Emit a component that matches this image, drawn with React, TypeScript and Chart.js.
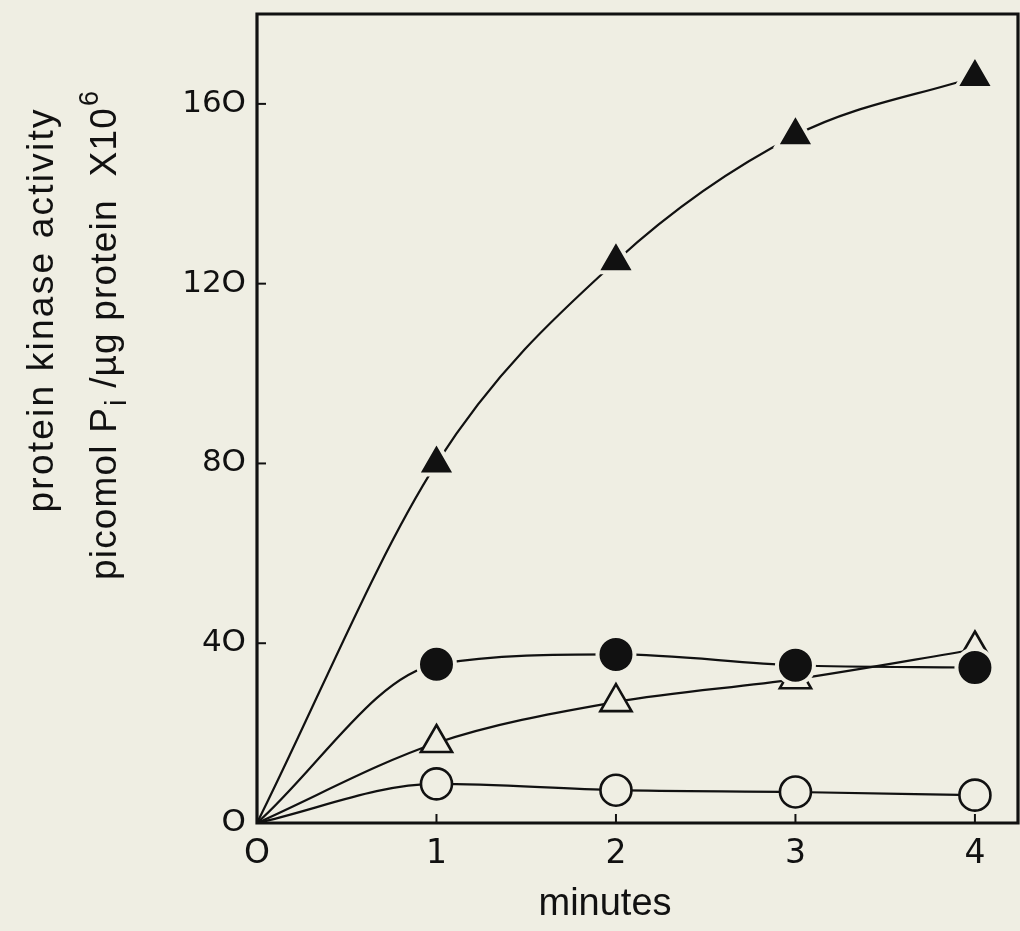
import React, { useEffect, useRef } from "react";
import { Chart, registerables } from "chart.js";

Chart.register(...registerables);

// ---- data ----
const minutes = [0, 1, 2, 3, 4];
const filledTriangle = [0, 80, 125, 153, 166];
const filledCircle = [0, 35.3, 37.5, 35.1, 34.6];
const openTriangle = [0, 17.8, 26.9, 32, 38.6];
const openCircle = [0, 8.7, 7.3, 6.9, 6.2];
const xTickValues = [0, 1, 2, 3, 4];
const yTickValues = [0, 40, 80, 120, 160];
const xTitle = "minutes";
const yTitleLine1 = "protein kinase activity";
const yTitleLine2a = "picomol P";
const yTitleLine2Sub = "i";
const yTitleLine2b = " /µg protein  X10";
const yTitleLine2Sup = "6";

const BG = "#efeee3";
const INK = "#111111";

const pts = (ys: number[]) => minutes.map((x, i) => ({ x, y: ys[i] }));
const radii = (r: number) => minutes.map((_, i) => (i === 0 ? 0 : r));

function drawSpaced(ctx: any, text: string, x: number, y: number, ls: number) {
  let cx = x;
  for (const ch of text) {
    ctx.fillText(ch, cx, y);
    cx += ctx.measureText(ch).width + ls;
  }
  return cx - x;
}
function widthSpaced(ctx: any, text: string, ls: number) {
  let w = 0;
  for (const ch of text) w += ctx.measureText(ch).width + ls;
  return w;
}

const framePlugin = {
  id: "frameAndTitles",
  beforeDraw(chart: any) {
    const { ctx, width, height } = chart;
    ctx.save();
    ctx.fillStyle = BG;
    ctx.fillRect(0, 0, width, height);
    ctx.restore();
  },
  afterDatasetsDraw(chart: any) {
    const { ctx, chartArea } = chart;
    const xs = chart.scales.x;
    const ys = chart.scales.y;
    ctx.save();
    ctx.strokeStyle = INK;
    ctx.lineWidth = 3.2;
    ctx.lineCap = "square";
    ctx.beginPath();
    ctx.moveTo(chartArea.left, chartArea.bottom);
    ctx.lineTo(chartArea.left, chartArea.top);
    ctx.lineTo(chartArea.right, chartArea.top);
    ctx.lineTo(chartArea.right, chartArea.bottom);
    ctx.closePath();
    ctx.stroke();
    ctx.lineWidth = 2;
    ctx.lineCap = "butt";
    xTickValues.forEach((v) => {
      if (v === 0) return;
      const px = xs.getPixelForValue(v);
      ctx.beginPath();
      ctx.moveTo(px, chartArea.bottom);
      ctx.lineTo(px, chartArea.bottom - 9);
      ctx.stroke();
    });
    yTickValues.forEach((v) => {
      if (v === 0) return;
      const py = ys.getPixelForValue(v);
      ctx.beginPath();
      ctx.moveTo(chartArea.left, py);
      ctx.lineTo(chartArea.left + 9, py);
      ctx.stroke();
    });
    ctx.restore();
  },
  afterDraw(chart: any) {
    const { ctx } = chart;
    ctx.save();
    ctx.fillStyle = INK;
    ctx.font = "38px 'Liberation Sans', Arial, sans-serif";
    ctx.textAlign = "center";
    ctx.textBaseline = "alphabetic";
    ctx.fillText(xTitle, 605, 915);

    const mainFont = "37px 'Liberation Sans', Arial, sans-serif";
    const subFont = "29px 'Liberation Sans', Arial, sans-serif";
    const supFont = "27px 'Liberation Sans', Arial, sans-serif";
    ctx.textAlign = "left";

    ctx.save();
    ctx.translate(53, 311);
    ctx.rotate(-Math.PI / 2);
    ctx.font = mainFont;
    const n1 = [...yTitleLine1].length;
    const nat1 = widthSpaced(ctx, yTitleLine1, 0);
    const ls1 = Math.max(0, (403 - nat1) / (n1 - 1));
    const w1 = widthSpaced(ctx, yTitleLine1, ls1) - ls1;
    drawSpaced(ctx, yTitleLine1, -w1 / 2, 0, ls1);
    ctx.restore();

    ctx.save();
    ctx.translate(116, 336);
    ctx.rotate(-Math.PI / 2);
    ctx.font = mainFont;
    const natA = widthSpaced(ctx, yTitleLine2a, 0);
    const natB = widthSpaced(ctx, yTitleLine2b, 0);
    ctx.font = subFont;
    const natSub = widthSpaced(ctx, yTitleLine2Sub, 0);
    ctx.font = supFont;
    const natSup = widthSpaced(ctx, yTitleLine2Sup, 0);
    const nChars = [...yTitleLine2a].length + [...yTitleLine2b].length + 1;
    const nat2 = natA + natB + natSub + natSup;
    const ls2 = Math.max(0, (488 - nat2) / nChars);
    const w2 = nat2 + ls2 * nChars;
    let cx = -w2 / 2;
    ctx.font = mainFont;
    cx += drawSpaced(ctx, yTitleLine2a, cx, 0, ls2);
    ctx.font = subFont;
    cx += drawSpaced(ctx, yTitleLine2Sub, cx + 1, 10, ls2);
    ctx.font = mainFont;
    cx += drawSpaced(ctx, yTitleLine2b, cx, 0, ls2);
    ctx.font = supFont;
    drawSpaced(ctx, yTitleLine2Sup, cx + 1, -18, 0);
    ctx.restore();

    ctx.restore();
  },
};

export default function App() {
  const ref = useRef<HTMLCanvasElement | null>(null);

  useEffect(() => {
    if (!ref.current) return;
    const common = {
      borderColor: INK,
      borderWidth: 2.2,
      cubicInterpolationMode: "monotone" as const,
      showLine: true,
      clip: 30,
    };
    const zeroPad = (s: any) => {
      s.paddingTop = 0;
      s.paddingBottom = 0;
      s.paddingLeft = 0;
      s.paddingRight = 0;
    };
    const chart = new Chart(ref.current, {
      type: "line",
      data: {
        datasets: [
          {
            ...common,
            label: "filled triangle",
            data: pts(filledTriangle),
            pointStyle: "triangle",
            pointRadius: radii(22),
            pointBackgroundColor: INK,
            pointBorderColor: BG,
            pointBorderWidth: 4,
          },
          {
            ...common,
            label: "filled circle",
            data: pts(filledCircle),
            pointStyle: "circle",
            pointRadius: radii(18.5),
            pointBackgroundColor: INK,
            pointBorderColor: BG,
            pointBorderWidth: 4,
          },
          {
            ...common,
            label: "open triangle",
            data: pts(openTriangle),
            pointStyle: "triangle",
            pointRadius: radii(18),
            pointBackgroundColor: BG,
            pointBorderColor: INK,
            pointBorderWidth: 2.6,
          },
          {
            ...common,
            label: "open circle",
            data: pts(openCircle),
            pointStyle: "circle",
            pointRadius: radii(15.5),
            pointBackgroundColor: BG,
            pointBorderColor: INK,
            pointBorderWidth: 2.6,
          },
        ],
      },
      options: {
        responsive: false,
        animation: false,
        events: [],
        layout: { autoPadding: false, padding: { left: 0, top: 14, right: 2, bottom: 0 } },
        plugins: {
          legend: { display: false },
          tooltip: { enabled: false },
          title: { display: false },
        },
        scales: {
          x: {
            type: "linear",
            min: 0,
            max: 4.24,
            afterBuildTicks: (s: any) => {
              s.ticks = xTickValues.map((v) => ({ value: v }));
            },
            afterFit: (s: any) => {
              s.height = 108;
              zeroPad(s);
            },
            grid: { display: false, drawTicks: false },
            border: { display: false },
            ticks: {
              color: INK,
              padding: 12,
              maxRotation: 0,
              autoSkip: false,
              font: { family: "'DejaVu Sans', sans-serif", size: 33, weight: "normal" },
              callback: (v: any) => (v === 0 ? "O" : String(v)),
            },
          },
          y: {
            type: "linear",
            min: 0,
            max: 180,
            afterBuildTicks: (s: any) => {
              s.ticks = yTickValues.map((v) => ({ value: v }));
            },
            afterFit: (s: any) => {
              s.width = 257;
              zeroPad(s);
            },
            grid: { display: false, drawTicks: false },
            border: { display: false },
            ticks: {
              color: INK,
              padding: 11,
              autoSkip: false,
              font: { family: "'DejaVu Sans', sans-serif", size: 31, weight: "normal" },
              callback: (v: any) => String(v).replace(/0/g, "O"),
            },
          },
        },
      },
      plugins: [framePlugin],
    });
    return () => chart.destroy();
  }, []);

  return (
    <div style={{ position: "absolute", left: 0, top: 0, width: 1020, height: 931 }}>
      <canvas ref={ref} width={1020} height={931} style={{ display: "block" }} />
    </div>
  );
}
